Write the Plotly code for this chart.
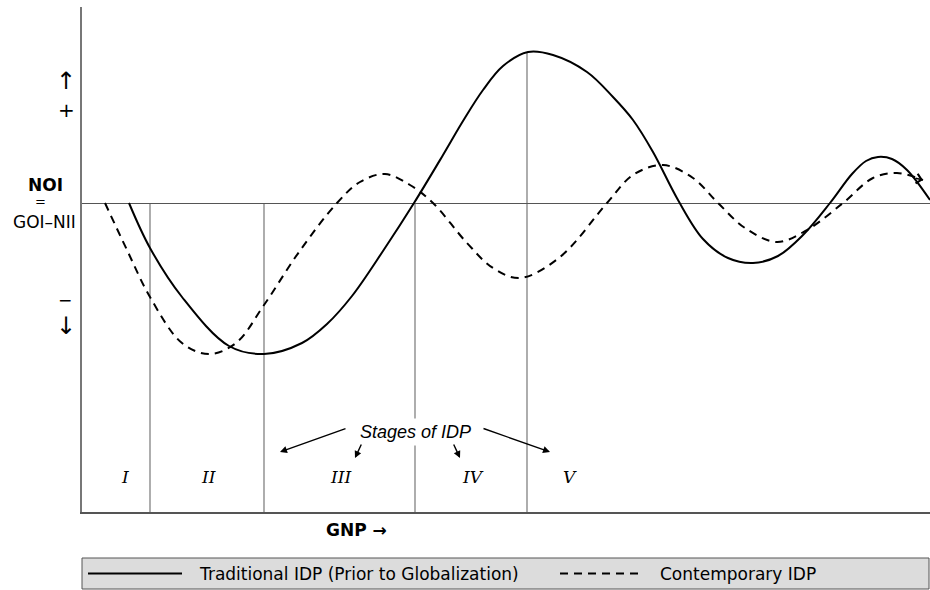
import plotly.graph_objects as go

# ---------------- data (arbitrary GNP / NOI units) ----------------
series_names = ["Traditional IDP (Prior to Globalization)", "Contemporary IDP"]

gnp_traditional = [47, 68, 100, 147, 182, 220, 245, 270, 301, 332, 361, 381, 401, 421, 446, 471,
                   505, 531, 551, 571, 596, 621, 646, 671, 696, 721, 748, 770, 784, 796, 810,
                   825, 848]
noi_traditional = [0, -45, -94, -143, -151, -140, -121, -93, -48, 0, 48, 82, 113, 137, 151, 148,
                   131, 106, 83, 51, 3, -36, -55, -60, -53, -32, 0, 29, 42, 46, 44,
                   33, 3]

gnp_contemporary = [23, 45, 68, 100, 127, 154, 182, 217, 255, 278, 303, 328, 351, 385, 411,
                    438, 478, 525, 551, 581, 611, 636, 663, 695, 725, 761, 791, 815, 841]
noi_contemporary = [0, -47, -94, -140, -151, -140, -102, -49, 0, 21, 29, 18, 0, -40, -65,
                    -75, -54, 0, 28, 38, 25, 0, -25, -39, -27, 0, 25, 30, 23]

stage_bounds = [68, 182, 333, 445]
stage_tops = [0, 0, 0, 151]
stage_labels = ["I", "II", "III", "IV", "V"]
stage_label_x = [43, 126, 258, 391, 488]

X_RANGE = [0, 848]
Y_RANGE = [-309, 196]

# ---------------- helpers (pixel -> paper) ----------------
L, T, W, H = 82, 7, 848, 505


def pxx(v):
    return (v - L) / W


def pxy(v):
    return (T + H - v) / H


FONT = "DejaVu Sans"

fig = go.Figure()

fig.add_trace(go.Scatter(
    x=gnp_traditional, y=noi_traditional, mode="lines", name=series_names[0],
    line=dict(color="black", width=2, shape="spline", smoothing=1.0),
    showlegend=False, hoverinfo="skip"))
fig.add_trace(go.Scatter(
    x=gnp_contemporary, y=noi_contemporary, mode="lines", name=series_names[1],
    line=dict(color="black", width=2, dash="8px,6px", shape="spline", smoothing=1.0),
    showlegend=False, hoverinfo="skip"))

# stage boundary lines
for xb, top in zip(stage_bounds, stage_tops):
    fig.add_shape(type="line", xref="x", yref="y", x0=xb, x1=xb, y0=Y_RANGE[0], y1=top,
                  line=dict(color="#777777", width=1.2), layer="below")

annotations = []
# stage numerals
for lab, xl in zip(stage_labels, stage_label_x):
    annotations.append(dict(x=xl, y=-274, xref="x", yref="y", text=lab, showarrow=False,
                            xanchor="center", yanchor="middle",
                            font=dict(family="DejaVu Serif", size=17, color="black", style="italic")))

# Stages of IDP text and arrows
annotations.append(dict(x=333, y=-229, xref="x", yref="y", text="Stages of IDP", showarrow=False,
                        xanchor="center", yanchor="middle", bgcolor="white", borderpad=3,
                        font=dict(family="Liberation Sans", size=18, color="black", style="italic")))
for hx, hy, ax, ay in [(198, -249, 67, -24), (273, -255, 7, -15), (378, -255, -7, -15), (468, -249, -68, -24)]:
    annotations.append(dict(x=hx, y=hy, xref="x", yref="y", ax=ax, ay=ay, text="", showarrow=True,
                            arrowhead=2, arrowsize=1, arrowwidth=1.4, arrowcolor="black", standoff=0))

# arrowhead at end of contemporary curve
annotations.append(dict(x=gnp_contemporary[-1], y=noi_contemporary[-1], xref="x", yref="y",
                        ax=-9, ay=-2, text="", showarrow=True, arrowhead=4, arrowsize=1.2,
                        arrowwidth=1.6, arrowcolor="black", standoff=0))

# left-side axis labels
left_labels = [
    ("↑", 66, 81, 24),
    ("+", 66, 110, 20),
    ("<b>NOI</b>", 45, 185, 17),
    ("=", 40, 201, 13),
    ("GOI–NII", 44, 222, 17),
    ("−", 65, 300, 17),
    ("↓", 66, 326, 24),
]
for txt, x, y, s in left_labels:
    annotations.append(dict(x=pxx(x), y=pxy(y), xref="paper", yref="paper", text=txt, showarrow=False,
                            xanchor="center", yanchor="middle",
                            font=dict(family=FONT, size=s, color="black")))

# GNP label
annotations.append(dict(x=pxx(356), y=pxy(530), xref="paper", yref="paper", text="<b>GNP →</b>",
                        showarrow=False, xanchor="center", yanchor="middle",
                        font=dict(family=FONT, size=17, color="black")))

# manual legend
fig.add_shape(type="rect", xref="paper", yref="paper", x0=pxx(82), x1=pxx(929), y0=pxy(589), y1=pxy(558),
              fillcolor="#dcdcdc", line=dict(color="#555555", width=1))
fig.add_shape(type="line", xref="paper", yref="paper", x0=pxx(88), x1=pxx(182), y0=pxy(573.5), y1=pxy(573.5),
              line=dict(color="black", width=2))
fig.add_shape(type="line", xref="paper", yref="paper", x0=pxx(560), x1=pxx(643), y0=pxy(573.5), y1=pxy(573.5),
              line=dict(color="black", width=2, dash="8px,6px"))
annotations.append(dict(x=pxx(197), y=pxy(573.5), xref="paper", yref="paper", text=series_names[0],
                        showarrow=False, xanchor="left", yanchor="middle",
                        font=dict(family=FONT, size=17, color="black")))
annotations.append(dict(x=pxx(658), y=pxy(573.5), xref="paper", yref="paper", text=series_names[1],
                        showarrow=False, xanchor="left", yanchor="middle",
                        font=dict(family=FONT, size=17, color="black")))

fig.update_layout(
    width=930, height=590, autosize=False,
    margin=dict(l=L, r=930 - L - W, t=T, b=590 - T - H, pad=0),
    paper_bgcolor="white", plot_bgcolor="white",
    showlegend=False,
    annotations=annotations,
    xaxis=dict(range=X_RANGE, showgrid=False, zeroline=False, showticklabels=False, ticks="",
               showline=True, linecolor="#555555", linewidth=1.5, fixedrange=True),
    yaxis=dict(range=Y_RANGE, showgrid=False, zeroline=True, zerolinecolor="#555555", zerolinewidth=1,
               showticklabels=False, ticks="", showline=True, linecolor="#777777", linewidth=1.5,
               fixedrange=True),
)

fig.write_html("out.html", config={"displayModeBar": False},
               post_script="document.body.style.margin='0';")
